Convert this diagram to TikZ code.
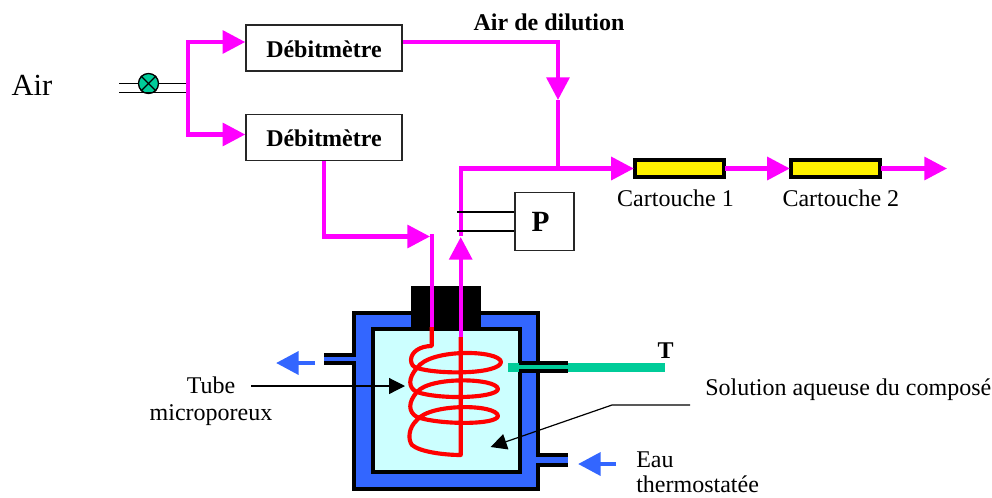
\documentclass[tikz,border=0pt]{standalone}
\usepackage{fontspec}
\setmainfont{Liberation Serif}
\usetikzlibrary{arrows.meta,positioning,calc}
\definecolor{pipe}{RGB}{255,0,255}
\definecolor{jacket}{RGB}{51,102,255}
\definecolor{liquid}{RGB}{204,255,255}
\definecolor{probe}{RGB}{0,204,153}

\begin{document}
\begin{tikzpicture}[
  x=.75pt, y=-.75pt,
  font=\fontsize{18}{20}\selectfont,
  box/.style={draw=black!85, line width=1.1pt, fill=white, inner sep=0pt},
  meter/.style={box, minimum width=117pt, minimum height=34.5pt, text height=13.5pt, text depth=0pt, font=\fontsize{18}{20}\selectfont\bfseries},
  cartridge/.style={draw=black, line width=3pt, fill=yellow, inner sep=0pt, outer sep=.75pt, minimum width=67pt, minimum height=12.75pt},
  flow/.style={draw=pipe, line width=3.2pt},
  flowarrow/.style={flow, -{Triangle[length=17pt, width=17pt]}},
  thin/.style={draw=black, line width=1pt},
  leader/.style={draw=black, line width=.9pt, -{Triangle[length=12pt, width=12pt]}},
  bluearrow/.style={draw=jacket, line width=3.5pt, -{Triangle[length=17pt, width=17pt]}},
  coil/.style={draw=red, line width=3.1pt, line join=round},
  wall/.style={draw=black, line width=3.2pt, fill=#1, inner sep=0pt}
]
\useasboundingbox (0,0) rectangle (992,497);

% air inlet
\node (air) at (32,85) {\fontsize{23}{27}\selectfont Air};
\node[meter] (metera) at (324,48) {Débitmètre};
\node[meter] (meterb) at (324,137.5) {Débitmètre};
\node[draw=black, line width=1pt, fill=probe, circle, inner sep=0pt, minimum size=15pt] (valve) at (148.5,83.5) {};
\coordinate (linea) at (119,83.5);
\coordinate (lineb) at (119,92.5);
\coordinate (split) at (188,88);
\draw[thin] (linea) -- (valve);
\draw[thin] (valve) -- (186,83.5);
\draw[thin] (lineb) -- (186,92.5);
\draw[thin] (valve.north west) -- (valve.south east);
\draw[thin] (valve.north east) -- (valve.south west);
\draw[flowarrow] (split) |- ($(metera.west)+(0,-6)$);
\draw[flowarrow] (split) |- ($(meterb.west)+(0,-3)$);

% dilution and main line
\node[font=\fontsize{18}{20}\selectfont\bfseries] (dilution) at (549,22) {Air de dilution};
\coordinate (mix) at (558,168);
\coordinate (mixin) at (558,100);
\coordinate (press) at (460.7,236);
\node[cartridge] (carta) at (679.5,168.5) {};
\node[cartridge] (cartb) at (835.5,168.5) {};
\coordinate (outlet) at (947,168.5);
\node[below=5pt of carta, xshift=-3pt] (cartalabel) {Cartouche 1};
\node[below=5pt of cartb, xshift=4pt] (cartblabel) {Cartouche 2};
\draw[flowarrow] ($(metera.east)+(0,-6)$) -| (mixin);
\draw[flow] (mixin) -- (mix);
\draw[flowarrow] (press) |- (carta.west);
\draw[flowarrow] (carta) -- (cartb);
\draw[flowarrow] (cartb) -- (outlet);

% pressure gauge
\node[box, minimum width=44pt, minimum height=43.5pt, font=\fontsize{22}{24}\selectfont\bfseries] (gauge) at (544.5,221.5) {P\kern6pt};
\coordinate (tapa) at (457,212);
\coordinate (tapb) at (457,231);
\draw[thin] (tapa) -- (tapa -| gauge.west);
\draw[thin] (tapb) -- (tapb -| gauge.west);

% vessel
\coordinate (porta) at (324,359);
\coordinate (portb) at (568,460);
\draw[draw=black, line width=9.4pt] (porta) -- (354,359);
\draw[draw=black, line width=10.5pt] (portb) -- (538,460);
\draw[draw=jacket, line width=3.4pt] (porta) -- (354,359);
\draw[draw=jacket, line width=4.2pt] (portb) -- (538,460);
\node[wall=jacket, minimum width=138pt, minimum height=132pt] (jacketbox) at (446,401) {};
\node[wall=liquid, minimum width=110pt, minimum height=107pt] (cell) at (446.5,400.5) {};
\node[fill=black, minimum width=52.5pt, minimum height=33pt, inner sep=0pt] (cap) at (446,308) {};
\fill[jacket] (349,356.7) rectangle (358,361.3);
\fill[jacket] (535,457.2) rectangle (545,462.8);

% probe
\coordinate (probea) at (508,367.3);
\coordinate (probeb) at (665,367.3);
\node[font=\fontsize{18}{20}\selectfont\bfseries, inner sep=0pt] (tlabel) at (665.7,351) {T};
\draw[draw=probe, line width=6.6pt] (probea) -- (probeb);
\draw[draw=black, line width=3.2pt] (519,363) -- (568,363);
\draw[draw=black, line width=3.2pt] (519,371.3) -- (568,371.3);

% coil
\coordinate (tubea) at (431.7,327);
\coordinate (tubeb) at (460.7,337);
\draw[coil] (tubea) -- (431.7,346) .. controls (420,346) and (411,352) .. (411,360)
  .. controls (411,364) and (413,367) .. (417,368)
  .. controls (440,375) and (500,374) .. (501,362) .. controls (500,350) and (430,348) .. (417,368)
  .. controls (408,378) and (408,388) .. (417,392)
  .. controls (440,400) and (497,398) .. (498,389) .. controls (497,378) and (430,376) .. (417,392)
  .. controls (408,402) and (408,412) .. (417,417)
  .. controls (440,425) and (497,425) .. (498,416) .. controls (497,404) and (430,403) .. (417,420)
  .. controls (408,428) and (408,440) .. (412,445) .. controls (420,452) and (445,455) .. (460.7,455)
  -- (tubeb);

% tubes into the vessel
\coordinate (bend) at (430,236.5);
\draw[flowarrow] (meterb.south) |- (bend);
\draw[flow] (429.6,236) -- (431.7,236) -- (tubea);
\draw[flowarrow] (tubeb) -- (460.7,237);

% labels and leaders
\node[align=center] (tubelabel) at (211,401) {Tube\\microporeux};
\coordinate (tubeleader) at (251,386);
\coordinate (coilpt) at (405,386);
\draw[leader] (tubeleader) -- (coilpt);
\node[anchor=west, inner sep=0pt] (sollabel) at (705,390) {Solution aqueuse du composé};
\coordinate (solend) at (690,405);
\coordinate (solbend) at (612,405);
\coordinate (soltip) at (490.7,447);
\draw[leader] (solend) -- (solbend) -- (soltip);
\coordinate (outa) at (315,363);
\coordinate (outb) at (276,363);
\draw[bluearrow] (outa) -- (outb);
\coordinate (ina) at (616,464);
\coordinate (inb) at (578,464);
\draw[bluearrow] (ina) -- (inb);
\node[anchor=west, align=left, inner sep=0pt, font=\fontsize{18}{19}\selectfont] (eaulabel) at (636,472.5) {Eau\\thermostatée};
\end{tikzpicture}
\end{document}
